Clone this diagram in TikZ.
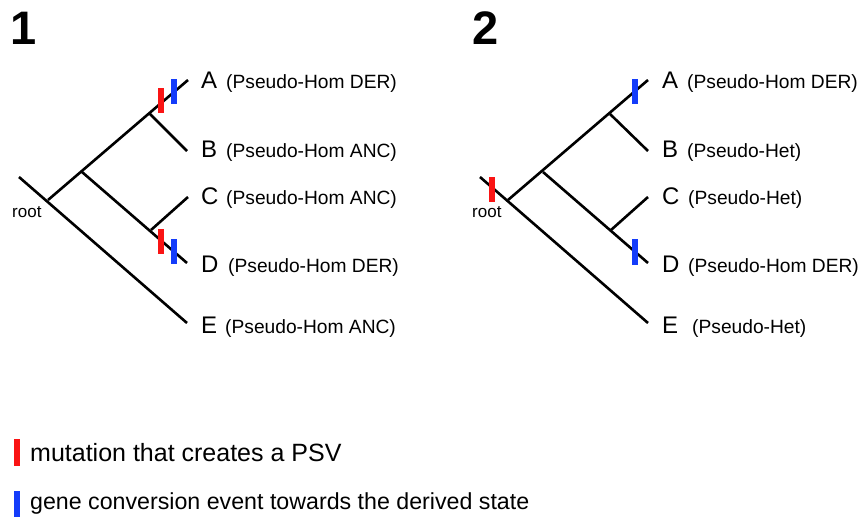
\documentclass[tikz,border=0pt]{standalone}
\usepackage{fontspec}
\setmainfont{Liberation Sans}
\definecolor{psvred}{RGB}{250,20,20}
\definecolor{gcblue}{RGB}{20,60,250}
\begin{document}
\begin{tikzpicture}[x=1pt,y=-1pt,
  branch/.style={line width=2.6pt,line cap=butt},
  redmark/.style={draw=psvred,line width=6pt},
  bluemark/.style={draw=gcblue,line width=6pt},
  leaf/.style={anchor=base west,inner sep=0pt,font=\fontsize{24}{24}\selectfont},
  state/.style={anchor=base west,inner sep=0pt,font=\fontsize{19.2}{19.2}\selectfont},
  rootlbl/.style={anchor=base west,inner sep=0pt,font=\fontsize{17}{17}\selectfont},
  panel/.style={anchor=base west,inner sep=0pt,font=\fontsize{47}{47}\selectfont\bfseries},
  legend/.style={anchor=base west,inner sep=0pt}]
\useasboundingbox (0,0) rectangle (863,517);

% ---------- tree 1 ----------
\node[panel] (p1) at (10,44) {1};
\coordinate (t1) at (19,177);
\coordinate (r1) at (48,200);
\coordinate (n1) at (82,172);
\coordinate (ab1) at (149,113);
\coordinate (cd1) at (151,230);
\coordinate (a1) at (188,80);
\coordinate (b1) at (187,151);
\coordinate (c1) at (188,197);
\coordinate (d1) at (187,263);
\coordinate (e1) at (187,323);
\draw[branch] (t1) -- (e1);
\draw[branch] (r1) -- (a1);
\draw[branch] (n1) -- (d1);
\draw[branch] (ab1) -- (b1);
\draw[branch] (cd1) -- (c1);
\draw[redmark] (161,88) -- (161,113);
\draw[bluemark] (174,79) -- (174,104);
\draw[redmark] (161,229) -- (161,254);
\draw[bluemark] (174,239) -- (174,264);
\node[rootlbl] (root1) at (12,217) {root};
\node[leaf] (A1) at (201,88) {A};
\node[state] (sA1) at (226,88) {(Pseudo-Hom DER)};
\node[leaf] (B1) at (201,157) {B};
\node[state] (sB1) at (226,157) {(Pseudo-Hom ANC)};
\node[leaf] (C1) at (201,204) {C};
\node[state] (sC1) at (226,204) {(Pseudo-Hom ANC)};
\node[leaf] (D1) at (201,272) {D};
\node[state] (sD1) at (228,272) {(Pseudo-Hom DER)};
\node[leaf] (E1) at (201,333) {E};
\node[state] (sE1) at (225,333) {(Pseudo-Hom ANC)};

% ---------- tree 2 ----------
\node[panel] (p2) at (472,44) {2};
\coordinate (t2) at (480,177);
\coordinate (r2) at (508,200);
\coordinate (n2) at (543,172);
\coordinate (ab2) at (610,114);
\coordinate (cd2) at (611,230);
\coordinate (a2) at (648,80);
\coordinate (b2) at (648,151);
\coordinate (c2) at (648,197);
\coordinate (d2) at (648,263);
\coordinate (e2) at (648,323);
\draw[branch] (t2) -- (e2);
\draw[branch] (r2) -- (a2);
\draw[branch] (n2) -- (d2);
\draw[branch] (ab2) -- (b2);
\draw[branch] (cd2) -- (c2);
\draw[redmark] (492,177) -- (492,202);
\draw[bluemark] (635,79) -- (635,104);
\draw[bluemark] (635,239) -- (635,265);
\node[rootlbl] (root2) at (472,217) {root};
\node[leaf] (A2) at (662,88) {A};
\node[state] (sA2) at (687,88) {(Pseudo-Hom DER)};
\node[leaf] (B2) at (662,157) {B};
\node[state] (sB2) at (687,157) {(Pseudo-Het)};
\node[leaf] (C2) at (662,204) {C};
\node[state] (sC2) at (688,204) {(Pseudo-Het)};
\node[leaf] (D2) at (662,272) {D};
\node[state] (sD2) at (688,272) {(Pseudo-Hom DER)};
\node[leaf] (E2) at (662,333) {E};
\node[state] (sE2) at (692,333) {(Pseudo-Het)};

% ---------- legend ----------
\draw[redmark] (16.5,439) -- (16.5,466);
\node[legend,font=\fontsize{25}{25}\selectfont] (lgred) at (30,461) {mutation that creates a PSV};
\draw[bluemark] (16.5,491) -- (16.5,517);
\node[legend,font=\fontsize{23.2}{23.2}\selectfont] (lgblue) at (30,509) {gene conversion event towards the derived state};
\end{tikzpicture}
\end{document}
